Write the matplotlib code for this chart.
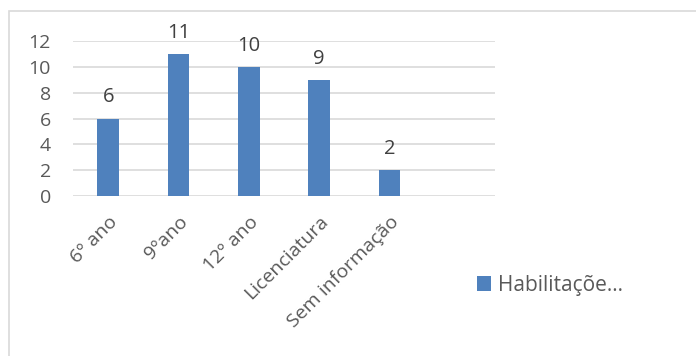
import matplotlib
matplotlib.use("Agg")
import matplotlib.pyplot as plt
from matplotlib.patches import Rectangle

categories = ["6º ano", "9ºano", "12º ano", "Licenciatura", "Sem informação"]
values = [6, 11, 10, 9, 2]
series_name = "Habilitaçõe…"
yticks = [0, 2, 4, 6, 8, 10, 12]

plt.rcParams['font.family'] = ['Open Sans', 'DejaVu Sans']
W, H = 696, 356
fig = plt.figure(figsize=(W/100, H/100), dpi=100)
fig.patch.set_facecolor('white')

# chart border
fig.add_artist(Rectangle((9/W, -0.1), 1.2, (H - 11)/H + 0.1, transform=fig.transFigure,
                         fill=False, edgecolor='#d9d9d9', linewidth=1.2))

ax = fig.add_axes([73/W, 1 - 196/H, (495 - 73)/W, (196 - 41)/H])
x = list(range(len(categories)))
bars = ax.bar(x, values, width=0.31, color='#4f81bd', zorder=3, label=series_name)
ax.set_xlim(-0.5, 5.5)
ax.set_ylim(0, 12)
ax.set_yticks(yticks)
ax.grid(axis='y', color='#d9d9d9', linewidth=1.2, zorder=0)
for s in ax.spines.values():
    s.set_visible(False)
ax.tick_params(axis='both', length=0, colors='#595959', labelsize=14)
ax.tick_params(axis='y', pad=16)
ax.set_xticks(x)
ax.set_xticklabels(categories, rotation=45, ha='right', rotation_mode='anchor')
ax.tick_params(axis='x', pad=12)

for xi, v in zip(x, values):
    ax.annotate(str(v), (xi, v), xytext=(0, 8), textcoords='offset points',
                ha='center', va='bottom', fontsize=14.5, color='#404040')

leg = fig.legend(handles=[bars], labels=[series_name], loc='center left',
                 bbox_to_anchor=(458/W, 1 - 285/H), frameon=False, fontsize=15,
                 handlelength=0.7, handleheight=0.7, handletextpad=0.3)
for t in leg.get_texts():
    t.set_color('#595959')

fig.savefig("out.png", dpi=100)
